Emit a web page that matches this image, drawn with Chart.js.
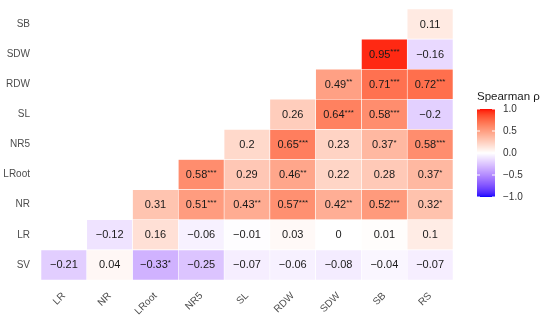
<!DOCTYPE html>
<html>
<head>
<meta charset="utf-8">
<script src="https://cdn.jsdelivr.net/npm/chart.js@4.4.1/dist/chart.umd.min.js"></script>
<style>
  html, body { margin: 0; padding: 0; background: #fff; }
  #wrap { width: 550px; height: 321px; }
</style>
</head>
<body>
<div id="wrap"><canvas id="corrChart" width="550" height="321"></canvas></div>
<script>
// columns (x) and rows (y, bottom to top)
const colNames = ['LR', 'NR', 'LRoot', 'NR5', 'SL', 'RDW', 'SDW', 'SB', 'RS'];
const rowNames = ['SV', 'LR', 'NR', 'LRoot', 'NR5', 'SL', 'RDW', 'SDW', 'SB'];

// correlations per row, left to right; row i starts at column i
const rhoSV    = [-0.21, 0.04, -0.33, -0.25, -0.07, -0.06, -0.08, -0.04, -0.07];
const rhoLR    = [-0.12, 0.16, -0.06, -0.01, 0.03, 0, 0.01, 0.1];
const rhoNR    = [0.31, 0.51, 0.43, 0.57, 0.42, 0.52, 0.32];
const rhoLRoot = [0.58, 0.29, 0.46, 0.22, 0.28, 0.37];
const rhoNR5   = [0.2, 0.65, 0.23, 0.37, 0.58];
const rhoSL    = [0.26, 0.64, 0.58, -0.2];
const rhoRDW   = [0.49, 0.71, 0.72];
const rhoSDW   = [0.95, -0.16];
const rhoSB    = [0.11];

// significance stars, same layout
const sigSV    = ['', '', '*', '', '', '', '', '', ''];
const sigLR    = ['', '', '', '', '', '', '', ''];
const sigNR    = ['', '***', '**', '***', '**', '***', '*'];
const sigLRoot = ['***', '', '**', '', '', '*'];
const sigNR5   = ['', '***', '', '*', '***'];
const sigSL    = ['', '***', '***', ''];
const sigRDW   = ['**', '***', '***'];
const sigSDW   = ['***', ''];
const sigSB    = [''];

const legendTicks = [1.0, 0.5, 0.0, -0.5, -1.0];

const rhoRows = [rhoSV, rhoLR, rhoNR, rhoLRoot, rhoNR5, rhoSL, rhoRDW, rhoSDW, rhoSB];
const sigRows = [sigSV, sigLR, sigNR, sigLRoot, sigNR5, sigSL, sigRDW, sigSDW, sigSB];

// Lab interpolation like scale_fill_gradient2(low = "blue", mid = "white", high = "red")
function toLin(c) { c /= 255; return c <= 0.04045 ? c / 12.92 : Math.pow((c + 0.055) / 1.055, 2.4); }
function fromLin(c) { c = c <= 0.0031308 ? 12.92 * c : 1.055 * Math.pow(c, 1 / 2.4) - 0.055; return Math.max(0, Math.min(255, Math.round(c * 255))); }
function rgb2lab(r, g, b) {
  r = toLin(r); g = toLin(g); b = toLin(b);
  let x = (0.4124 * r + 0.3576 * g + 0.1805 * b) / 0.95047;
  let y = (0.2126 * r + 0.7152 * g + 0.0722 * b);
  let z = (0.0193 * r + 0.1192 * g + 0.9505 * b) / 1.08883;
  const f = t => t > 0.008856 ? Math.cbrt(t) : 7.787 * t + 16 / 116;
  x = f(x); y = f(y); z = f(z);
  return [116 * y - 16, 500 * (x - y), 200 * (y - z)];
}
function lab2rgb(L, a, bb) {
  let y = (L + 16) / 116, x = a / 500 + y, z = y - bb / 200;
  const fi = t => t * t * t > 0.008856 ? t * t * t : (t - 16 / 116) / 7.787;
  x = fi(x) * 0.95047; y = fi(y); z = fi(z) * 1.08883;
  const r = 3.2406 * x - 1.5372 * y - 0.4986 * z;
  const g = -0.9689 * x + 1.8758 * y + 0.0415 * z;
  const b = 0.0557 * x - 0.2040 * y + 1.0570 * z;
  return 'rgb(' + fromLin(r) + ',' + fromLin(g) + ',' + fromLin(b) + ')';
}
const labRed = rgb2lab(255, 0, 0), labWhite = rgb2lab(255, 255, 255), labBlue = rgb2lab(0, 0, 255);
function fillFor(v) {
  const end = v >= 0 ? labRed : labBlue;
  const t = Math.min(1, Math.abs(v));
  return lab2rgb(labWhite[0] + (end[0] - labWhite[0]) * t,
                 labWhite[1] + (end[1] - labWhite[1]) * t,
                 labWhite[2] + (end[2] - labWhite[2]) * t);
}

// one floating-bar dataset per row
const datasets = rhoRows.map((vals, i) => {
  const data = colNames.map((c, j) => j >= i ? [i - 0.5, i + 0.5] : null);
  const colors = colNames.map((c, j) => j >= i ? fillFor(vals[j - i]) : 'rgba(0,0,0,0)');
  return {
    label: rowNames[i],
    data: data,
    backgroundColor: colors,
    borderColor: '#ffffff',
    borderWidth: 0.6,
    borderSkipped: false,
    grouped: false,
    barPercentage: 1,
    categoryPercentage: 1
  };
});

function fmt(v) {
  const s = String(Math.round(v * 100) / 100);
  return s.replace('-', '\u2212');
}

const cellText = {
  id: 'cellText',
  afterDatasetsDraw(chart) {
    const ctx = chart.ctx, xs = chart.scales.x, ys = chart.scales.y;
    ctx.save();
    ctx.fillStyle = '#1a1a1a';
    ctx.textBaseline = 'middle';
    rhoRows.forEach((vals, i) => {
      vals.forEach((v, k) => {
        const j = i + k;
        const cx = xs.getPixelForValue(j), cy = ys.getPixelForValue(i);
        const main = fmt(v), stars = sigRows[i][k];
        ctx.font = '11px "Liberation Sans", Arial, sans-serif';
        const w1 = ctx.measureText(main).width;
        ctx.font = '8px "Liberation Sans", Arial, sans-serif';
        const w2 = stars ? ctx.measureText(stars).width : 0;
        const x0 = cx - (w1 + w2) / 2;
        ctx.textAlign = 'left';
        ctx.font = '11px "Liberation Sans", Arial, sans-serif';
        ctx.fillText(main, x0, cy + 0.5);
        if (stars) {
          ctx.font = '8px "Liberation Sans", Arial, sans-serif';
          ctx.fillText(stars, x0 + w1, cy - 2);
        }
      });
    });
    ctx.restore();
  }
};

const colorBar = {
  id: 'colorBar',
  afterDraw(chart) {
    const ctx = chart.ctx;
    const bx = 477, bw = 18, top = 109, bottom = 197;
    ctx.save();
    for (let y = top; y < bottom; y++) {
      const v = 1 - 2 * (y - top + 0.5) / (bottom - top);
      ctx.fillStyle = fillFor(v);
      ctx.fillRect(bx, y, bw, 1);
    }
    ctx.fillStyle = '#1a1a1a';
    ctx.font = '11.5px "Liberation Sans", Arial, sans-serif';
    ctx.textAlign = 'left';
    ctx.textBaseline = 'alphabetic';
    ctx.fillText('Spearman \u03c1', 477, 100);
    ctx.font = '10px "Liberation Sans", Arial, sans-serif';
    ctx.textBaseline = 'middle';
    ctx.fillStyle = '#333333';
    legendTicks.forEach(t => {
      const y = top + (1 - t) / 2 * (bottom - top);
      ctx.strokeStyle = '#ffffff';
      ctx.lineWidth = 1;
      ctx.beginPath();
      ctx.moveTo(bx, y); ctx.lineTo(bx + 3, y);
      ctx.moveTo(bx + bw - 3, y); ctx.lineTo(bx + bw, y);
      ctx.stroke();
      ctx.fillText(t.toFixed(1).replace('-', '\u2212'), 503, y);
    });
    ctx.restore();
  }
};

new Chart(document.getElementById('corrChart').getContext('2d'), {
  type: 'bar',
  data: { labels: colNames, datasets: datasets },
  options: {
    responsive: false,
    animation: false,
    layout: { padding: { left: 0, top: 7, right: 97, bottom: 0 } },
    plugins: { legend: { display: false }, tooltip: { enabled: false } },
    scales: {
      x: {
        grid: { display: false },
        border: { display: false },
        ticks: {
          color: '#4d4d4d',
          font: { family: '"Liberation Sans", Arial, sans-serif', size: 10 },
          minRotation: 45, maxRotation: 45, padding: 2
        },
        afterFit(scale) { scale.height = 41; }
      },
      y: {
        type: 'linear',
        min: -0.5, max: 8.5,
        grid: { display: false },
        border: { display: false },
        afterBuildTicks(scale) { scale.ticks = rowNames.map((n, i) => ({ value: i })); },
        ticks: {
          color: '#4d4d4d',
          font: { family: '"Liberation Sans", Arial, sans-serif', size: 10 },
          padding: 3,
          callback: v => rowNames[v]
        },
        afterFit(scale) { scale.width = 41; }
      }
    }
  },
  plugins: [cellText, colorBar]
});
</script>
</body>
</html>
